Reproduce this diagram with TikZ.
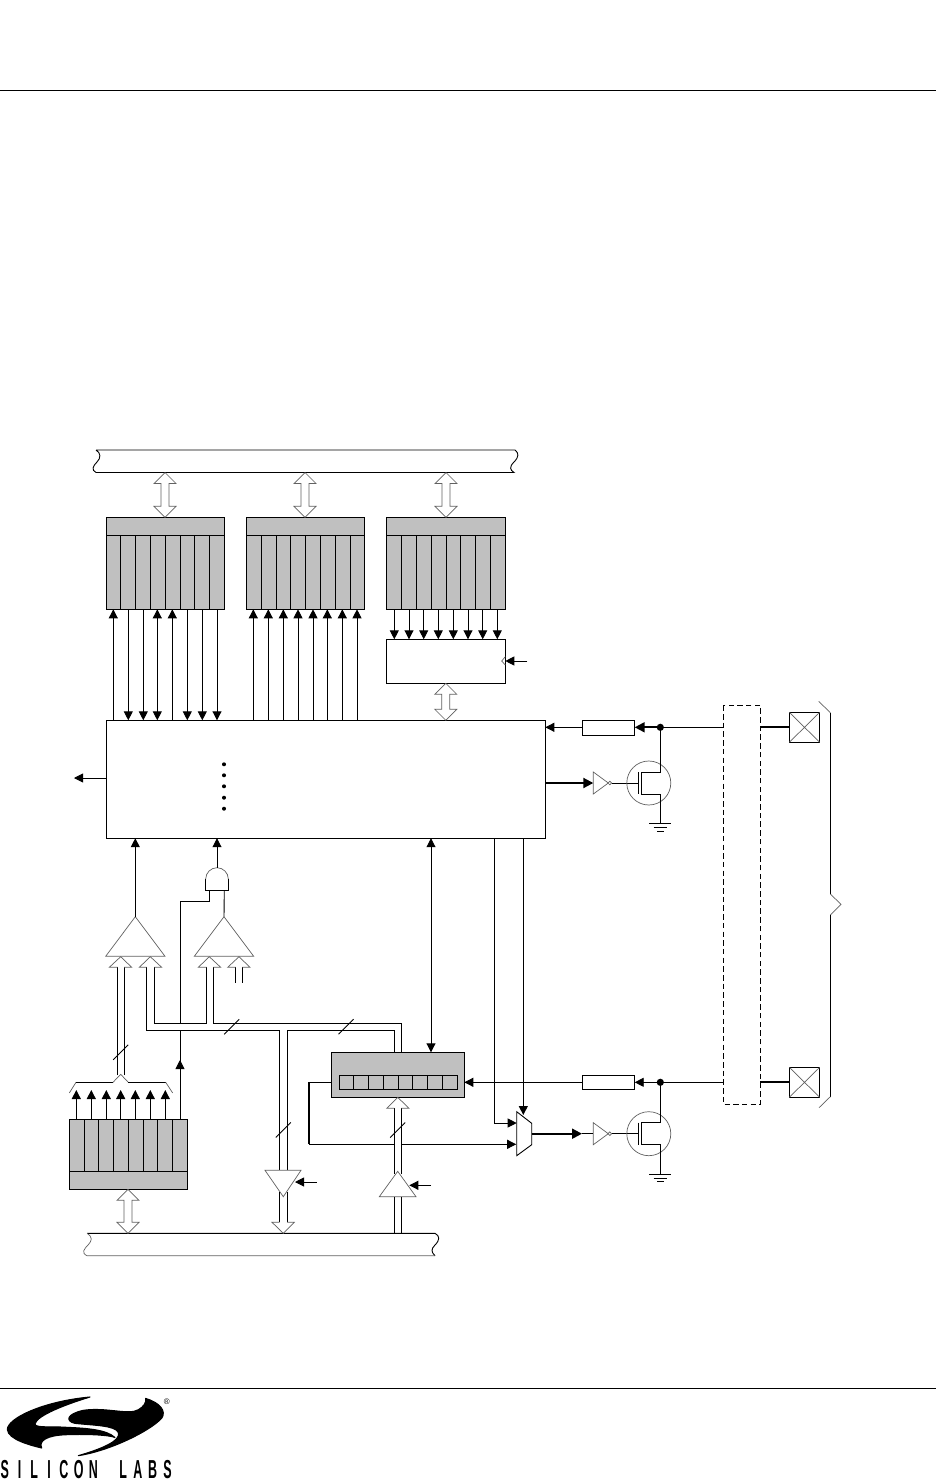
\documentclass[tikz,border=0pt]{standalone}
\usepackage{fontspec}
\setmainfont{Liberation Sans}
\usetikzlibrary{arrows.meta,calc}
\definecolor{latchgray}{HTML}{C0C0C0}
\newcommand{\logoletter}[1]{\makebox[14.8pt][c]{\scalebox{0.48}[1]{#1}}}
% box from corners: name, x1,y1,x2,y2, style
\newcommand{\bx}[6]{\node[boxbase,#6,minimum width={(#4-#2)*1pt},minimum height={(#5-#3)*1pt}] (#1) at ({(#2+#4)/2},{(#3+#5)/2}) {};}
\newcommand{\tx}[1]{\coordinate (tx) at (#1,0);}
\tikzset{
  boxbase/.style={rectangle,inner sep=0pt,outer sep=0pt},
  wire/.style={line width=0.9pt,draw=black},
  box/.style={draw=black,line width=0.9pt,fill=white},
  grayfill/.style={draw=black,line width=0.9pt,fill=latchgray},
  thinline/.style={draw=black!62,line width=0.7pt},
  tipped/.style={wire,>={Triangle[length=9pt,width=9pt]}},
  thicktip/.style={line width=2pt,draw=black,>={Triangle[length=10pt,width=10pt]}},
  hollowdbl/.style={thinline,line join=miter,to path={let \p1=(\tikztostart),\p2=(\tikztotarget) in
    -- (\x1-11pt,\y1-11pt) -- (\x1-4pt,\y1-11pt) -- (\x2-4pt,\y2+11pt) -- (\x2-11pt,\y2+11pt) -- (\x2,\y2)
    -- (\x2+11pt,\y2+11pt) -- (\x2+4pt,\y2+11pt) -- (\x1+4pt,\y1-11pt) -- (\x1+11pt,\y1-11pt) -- (\x1,\y1)}},
  hollowhead/.style={thinline,line join=miter},
  logoink/.style={fill=black,draw=black,line width=1.1pt,line join=round},
}
\begin{document}
\begin{tikzpicture}[x=1pt,y=-1pt]
\useasboundingbox (0,0) rectangle (936,1479);
\fill[white] (0,0) rectangle (936,1479);
% page rules
\coordinate (ruleTL) at (0,90); \coordinate (ruleTR) at (936,90);
\coordinate (ruleBL) at (0,1388); \coordinate (ruleBR) at (936,1388);
\draw[wire] (ruleTL) -- (ruleTR);
\draw[wire] (ruleBL) -- (ruleBR);

% ---- buses
\bx{busT}{96}{450}{515}{472.5}{}
\draw[wire] (96,450) -- (515,450) .. controls (519,453) and (519,457) .. (514,462) .. controls (509,467) and (510,470) .. (514,472.5) -- (96,472.5) .. controls (91,470) and (93,466) .. (97,462) .. controls (101,458) and (101,453) .. (96,450);
\bx{busB}{87}{1233.3}{435}{1255.7}{}
\draw[wire] (87,1233.3) -- (435,1233.3) .. controls (440,1236) and (440,1240) .. (435,1245) .. controls (431,1249) and (431,1252) .. (435,1255.7);
\draw[thinline] (435,1255.7) -- (87,1255.7) .. controls (81,1253) and (84,1249) .. (88,1245) .. controls (92,1241) and (93,1237) .. (87,1233.3);

% ---- latches
\bx{latA}{106.3}{517.3}{224.3}{609.3}{grayfill}
\bx{latB}{246.3}{517.3}{364.3}{609.3}{grayfill}
\bx{latC}{386.3}{517.3}{505.3}{609.3}{grayfill}
\coordinate (hdr) at (0,535.3);
\foreach \lname in {latA,latB,latC} \draw[wire] (\lname.west |- hdr) -- (\lname.east |- hdr);
\foreach \x in {120.7,135.7,150.7,165.7,180.7,194.7,209.7,261.3,276.3,290.3,305.7,320.7,335.7,350.7,401.3,416.3,431.7,446.7,460.7,475.7,490.7}
  \draw[wire] (\x,535.3) -- (\x,609.3);
\bx{latD}{69.3}{1119.3}{187.3}{1189.3}{grayfill}
\coordinate (hdrD) at (0,1171.3);
\draw[wire] (latD.west |- hdrD) -- (latD.east |- hdrD);
\foreach \x in {84.3,98.7,113.7,128.7,143.7,157.7,172.7}
  \draw[wire] (\x,1119.3) -- (\x,1171.3);

% ---- boxes
\bx{oe}{386.3}{639.3}{505.3}{683.3}{box}
\bx{main}{106.3}{720.3}{545.3}{838.2}{box}
\bx{portlatch}{331.3}{1052.3}{464.3}{1097.3}{grayfill}
\bx{cells}{339.3}{1075.3}{457.7}{1089.3}{grayfill}
\foreach \x in {353.3,368.7,383.7,398.3,412.7,427.7,442.7}
  \draw[wire] (\x,1075.3) -- (\x,1089.3);
\bx{resU}{582.3}{720.3}{634.7}{735}{box}
\bx{resL}{582.3}{1075.3}{634.7}{1089.3}{box}
\bx{padU}{789.3}{712.3}{819.7}{742.3}{box}
\bx{padL}{789.3}{1067.3}{819.7}{1097.3}{box}
\draw[thinline] (padU.north west) -- (padU.south east) (padU.north east) -- (padU.south west);
\draw[thinline] (padL.north west) -- (padL.south east) (padL.north east) -- (padL.south west);
\bx{xbar}{723.3}{705.3}{760.3}{1104.3}{}
\draw[wire,dash pattern=on 5.5pt off 3.2pt] (xbar.north west) rectangle (xbar.south east);

% ---- hollow double arrows
\foreach \lname/\xv in {latA/165,latB/305,latC/446}
  {\tx{\xv}\draw[hollowdbl] (tx |- busT.south) to (tx |- \lname.north);}
\draw[hollowdbl] (oe.south) to (oe.south |- main.north);
\tx{128}\draw[hollowdbl] (tx |- latD.south) to (tx |- busB.north);

% ---- arrows between latches and main
\foreach \x in {113.3,172.3}
  {\tx{\x}\draw[tipped,->] (tx |- main.north) -- (tx |- latA.south);}
\foreach \x in {128.3,143.3,187.3,202.3,217}
  {\tx{\x}\draw[tipped,->] (tx |- latA.south) -- (tx |- main.north);}
\tx{157.3}\draw[tipped,<->] (tx |- latA.south) -- (tx |- main.north);
\foreach \x in {253.3,268.3,283.3,298,313,327.3,342.3,357}
  {\tx{\x}\draw[tipped,->] (tx |- main.north) -- (tx |- latB.south);}
\foreach \x in {394.3,409,423.7,438.3,453.3,468,482.7,497.3}
  {\tx{\x}\draw[tipped,->] (tx |- latC.south) -- (tx |- oe.north);}
% clock of the output latch
\coordinate (clk) at (527.3,661);
\draw[tipped,->] (clk) -- (oe.east |- clk);
\draw[thinline] (505.3,656.7) -- (501.7,661) -- (505.3,665);
% left exit
\coordinate (exit) at (74,778);
\draw[tipped,->] (main.west |- exit) -- (exit);
% dots
\foreach \y in {764.3,775.3,786.3,797.7,808.7} \fill (224,\y) circle (2);

% ---- comparators
\coordinate (cmpA) at (135.3,916.7);
\coordinate (cmpB) at (224,916.7);
\draw[thinline,line join=miter] (cmpA) -- (105.7,956.3) -- (165,956.3) -- cycle;
\draw[thinline,line join=miter] (cmpB) -- (194.3,956.3) -- (253.7,956.3) -- cycle;
\draw[tipped,->] (cmpA) -- (cmpA |- main.south);
% AND gate
\coordinate (andO) at (217,867.7);
\coordinate (andL) at (209.3,890.3);
\coordinate (andR) at (224.3,890.3);
\draw[thinline] (205.7,879) arc[start angle=180,end angle=360,radius=11.3];
\draw[wire] (205.7,879) -- (205.7,890.3) -- (228.3,890.3) -- (228.3,879);
\draw[tipped,->] (andO) -- (andO |- main.south);
\draw[wire] (andR) -- (cmpB);
\coordinate (enTap) at (180,1023.3);
\draw[wire] (andL) -- (209.3,901) -- (180,901) -- (enTap);
\coordinate (enTapB) at (180,1030.3);
\draw[tipped,->] (enTapB |- latD.north) -- (180,1060);
\draw[wire] (180,1062) -- (enTapB);

% ---- hollow bus arrows
\draw[wire] (117.7,1075) -- (117.7,967.3);
\draw[wire] (124,1075) -- (124,967.3);
\draw[hollowhead] (117.7,967.3) -- (109.3,967.3) -- (120.7,956.7) -- (131.7,967.3) -- (124,967.3);
% bus into comparator A, right input and the cross bus
\draw[wire] (146.7,967.3) -- (146.7,1030.3) -- (279.7,1030.3) -- (279.7,1170.3);
\draw[wire] (154.3,967.3) -- (154.3,1023.3) -- (206.7,1023.3) -- (206.7,967.3);
\draw[wire] (213.3,967.3) -- (213.3,1023.3) -- (401.3,1023.3) -- (401.3,1052.3);
\draw[wire] (287,1170.3) -- (287,1030.3) -- (394.3,1030.3) -- (394.3,1052.3);
\draw[hollowhead] (146.7,967.3) -- (139.3,967.3) -- (150.3,956.7) -- (161.7,967.3) -- (154.3,967.3);
\draw[hollowhead] (206.7,967.3) -- (198.3,967.3) -- (209.3,956.7) -- (220.7,967.3) -- (213.3,967.3);
\draw[wire] (235.7,982.7) -- (235.7,967.3);
\draw[wire] (242.3,982.7) -- (242.3,967.3);
\draw[hollowhead] (235.7,967.3) -- (227.7,967.3) -- (239,956.7) -- (250,967.3) -- (242.3,967.3);
% bus slashes
\foreach \cx/\cy in {120.7/1052.3,231.7/1026.7,346/1026.7,283.3/1130,397.7/1130}
  \draw[wire] (\cx-7.5,\cy+7.5) -- (\cx+7.5,\cy-7.5);

% ---- brace above the lower latch
\draw[thinline] (69.3,1093) -- (76,1082.3);
\draw[wire] (76,1082.3) -- (113,1082.3);
\draw[thinline] (113,1082.3) -- (120.7,1074.3) -- (128.3,1082.3);
\draw[wire] (128.3,1082.3) -- (165.7,1082.3);
\draw[thinline] (165.7,1082.3) -- (172.7,1093);
\foreach \x in {76.3,91.3,106.3,120.7,135.3,150.3,165.3}
  {\tx{\x}\draw[tipped,->] (tx |- latD.north) -- (\x,1090);}

% ---- tri-state drivers
\coordinate (drvD) at (283.3,1196.7);
\draw[thinline,line join=miter] (265,1170.3) -- (301,1170.3) -- (drvD) -- cycle;
\coordinate (enD) at (316.7,1182);
\draw[tipped,->] (enD) -- (295,1182);
\draw[wire] (279.7,1192) -- (279.7,1222.3);
\draw[wire] (287,1192) -- (287,1222.3);
\tx{283.3}\draw[hollowhead] (279.7,1222.3) -- (272,1222.3) -- (tx |- busB.north) -- (294.3,1222.3) -- (287,1222.3);
\coordinate (drvU) at (397.7,1171.3);
\draw[thinline,line join=miter] (drvU) -- (379.3,1196.7) -- (416,1196.7) -- cycle;
\coordinate (enU) at (431,1185.3);
\draw[tipped,->] (enU) -- (409.3,1185.3);
\draw[wire] (394.3,1196.7) -- (394.3,1233.3);
\draw[wire] (401.3,1196.7) -- (401.3,1233.3);
\draw[wire] (394.3,1108.3) -- (394.3,1174);
\draw[wire] (401.3,1108.3) -- (401.3,1174);
\tx{397.7}\draw[hollowhead] (394.3,1108.3) -- (386.7,1108.3) -- (tx |- portlatch.south) -- (409,1108.3) -- (401.3,1108.3);

% ---- main to port latch and mux
\tx{431}\draw[tipped,<->] (tx |- main.south) -- (tx |- portlatch.north);
\coordinate (muxTL) at (516.7,1111.7);
\coordinate (muxTR) at (531.7,1123.3);
\coordinate (muxBR) at (531.7,1144.7);
\coordinate (muxBL) at (516.7,1155.7);
\draw[wire,line join=miter] (muxTL) -- (muxTR) -- (muxBR) -- (muxBL) -- cycle;
\draw[wire] (494.3,838.2) -- (494.3,1123);
\draw[tipped,->] (494.3,1123) -- (516.7,1123);
\draw[tipped,->] (523.3,838.2) -- (523.3,1115);
% latch q back to mux
\coordinate (fbA) at (309,1082.3);
\coordinate (fbB) at (309,1144.3);
\draw[wire] (portlatch.west |- fbA) -- (fbA);
\draw[line width=1.8pt] (fbA) -- (fbB);
\draw[wire] (fbB) -- (394.3,1144.3);
\draw[tipped,->] (401.3,1144.3) -- (516.2,1144.3);

% ---- output stages
\foreach \yc/\yn/\ygnd in {783/727.3/823.5,1133.7/1082.3/1174.3}{
  \draw[thinline,line join=miter] (593.3,\yc-11) -- (593.3,\yc+11) -- (608.3,\yc) -- cycle;
  \draw[wire] (611.5,\yc+0.1) -- (638.3,\yc+0.1);
  \draw[thinline,fill=white] (609.8,\yc) circle (1.8);
  \draw[thinline] (648.8,\yc) circle (22);
  \draw[wire] (638.3,\yc-11) -- (638.3,\yc+11);
  \draw[wire] (660.3,\yn) -- (660.3,\yc-11) -- (641.8,\yc-11) -- (641.8,\yc+11) -- (660.3,\yc+11) -- (660.3,\ygnd);
  \draw[wire] (649,\ygnd) -- (671,\ygnd);
  \draw[wire] (653.5,\ygnd+3.7) -- (667,\ygnd+3.7);
  \draw[wire] (657,\ygnd+7.5) -- (664,\ygnd+7.5);
  \fill (660.3,\yn) circle (3.6);
}
\coordinate (outU) at (593.3,783);
\draw[thicktip,->] (main.east |- outU) -- (outU);
\draw[thicktip,->] (531.7,1133.7) -- (582,1133.7);
\draw[wire] (582,1133.7) -- (593.3,1133.7);
% upper input
\coordinate (nodeU) at (660.3,727.3);
\coordinate (nodeL) at (660.3,1082.3);
\draw[tipped,->] (resU.west |- nodeU) -- (main.east |- nodeU);
\draw[thicktip,->] (nodeU) -- (resU.east |- nodeU);
\draw[wire] (nodeU) -- (xbar.west |- nodeU);
\draw[line width=1.8pt] (xbar.east |- padU.west) -- (padU.west);
% lower input
\draw[tipped,->] (resL.west |- nodeL) -- (portlatch.east |- nodeL);
\draw[tipped,->] (nodeL) -- (resL.east |- nodeL);
\draw[wire] (nodeL) -- (xbar.west |- nodeL);
\draw[line width=1.8pt] (xbar.east |- padL.west) -- (padL.west);

% ---- port brace
\draw[thinline] (818.7,701.3) -- (830.3,712.7);
\draw[wire] (830.3,712.7) -- (830.3,894);
\draw[thinline] (830.3,894) -- (841,904.3) -- (830.3,915);
\draw[wire] (830.3,915) -- (830.3,1096.7);
\draw[thinline] (830.3,1096.7) -- (819,1107.7);

% ---- logo
\begin{scope}[shift={(0,1392.75)},x=0.3333pt,y=-0.2833pt]
\path[logoink] (270,15) .. controls (130,30) and (22,90) .. (22,130) .. controls (25,165) and (90,185) .. (125,195)
  .. controls (115,170) and (140,150) .. (200,148) .. controls (270,145) and (330,150) .. (345,158)
  .. controls (320,130) and (260,125) .. (200,122) .. controls (150,118) and (105,125) .. (105,110)
  .. controls (110,80) and (200,40) .. (270,15) -- cycle;
\path[logoink] (437,20) .. controls (480,35) and (500,65) .. (485,90) .. controls (450,135) and (330,205) .. (235,222)
  .. controls (300,200) and (365,170) .. (355,140) .. controls (345,115) and (280,115) .. (225,108)
  .. controls (195,100) and (200,75) .. (250,62) .. controls (320,50) and (385,80) .. (415,60)
  .. controls (430,50) and (440,35) .. (437,20) -- cycle;
\end{scope}
\node[inner sep=0pt,font=\fontsize{8}{8}\selectfont] (reg) at (166.7,1402) {®};
\node[inner sep=0pt,anchor=base west,font=\fontsize{26}{26}\bfseries\selectfont] (logotext) at (-2.9,1478)
  {\logoletter{S}\logoletter{I}\logoletter{L}\logoletter{I}\logoletter{C}\logoletter{O}\logoletter{N}\logoletter{\ }\logoletter{L}\logoletter{A}\logoletter{B}\logoletter{S}};
\end{tikzpicture}
\end{document}
